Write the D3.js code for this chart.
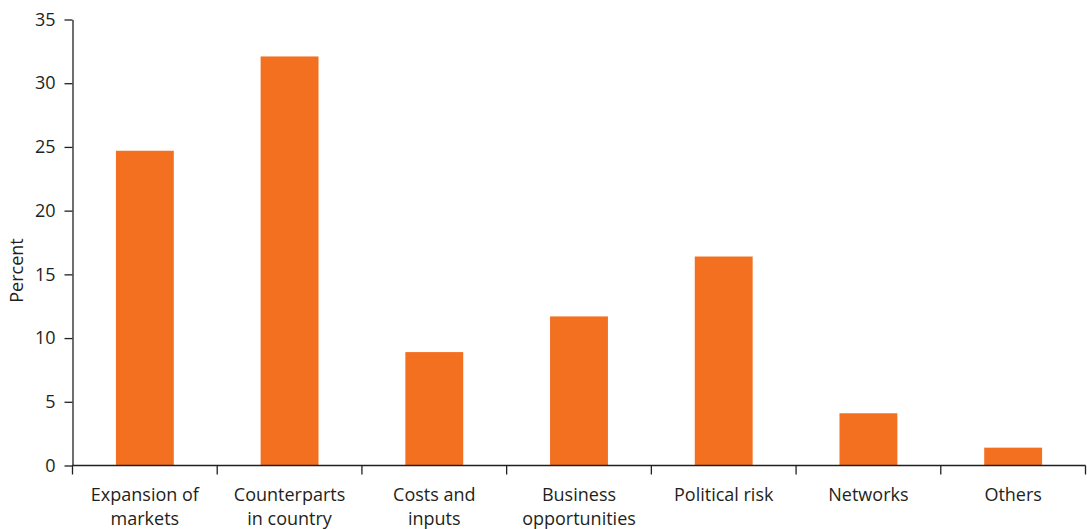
<!DOCTYPE html>
<html>
<head>
<meta charset="utf-8">
<script src="https://cdn.jsdelivr.net/npm/d3@7"></script>
<style>
  html, body { margin: 0; padding: 0; background: #fff; }
  svg text { font-family: "Open Sans", "Noto Sans", sans-serif; fill: #231f20; }
</style>
</head>
<body>
<svg id="chart" width="1087" height="529"></svg>
<script>
// Reasons for investing, share of respondents (percent)
const categories = [
  ["Expansion of", "markets"],
  ["Counterparts", "in country"],
  ["Costs and", "inputs"],
  ["Business", "opportunities"],
  ["Political risk"],
  ["Networks"],
  ["Others"]
];
const values = [24.7, 32.1, 8.9, 11.7, 16.4, 4.1, 1.4];
const yTicks = [0, 5, 10, 15, 20, 25, 30, 35];

const svg = d3.select("#chart");
const margin = { left: 72.5, right: 1.5, top: 19.5, bottom: 63.5 };
const W = 1087, H = 529;
const ink = "#231f20";

const x = d3.scaleBand()
  .domain(d3.range(categories.length))
  .range([margin.left, W - margin.right])
  .paddingInner(0.6)
  .paddingOuter(0.3);

const y = d3.scaleLinear()
  .domain([0, 35])
  .range([H - margin.bottom, margin.top]);

// bars
svg.append("g")
  .selectAll("rect")
  .data(values)
  .join("rect")
  .attr("x", (d, i) => x(i))
  .attr("width", x.bandwidth())
  .attr("y", d => y(d))
  .attr("height", d => y(0) - y(d))
  .attr("fill", "#f37021");

// y axis
const yAxis = svg.append("g")
  .attr("transform", `translate(${margin.left},0)`)
  .call(d3.axisLeft(y).tickValues(yTicks).tickSize(8).tickPadding(9).tickSizeOuter(0));
yAxis.select(".domain").attr("stroke", ink).attr("stroke-width", 1.3);
yAxis.selectAll(".tick line").attr("stroke", ink).attr("stroke-width", 1.3);
yAxis.selectAll(".tick text").attr("font-size", 18).style("fill", ink)
  .attr("font-family", "'Open Sans', sans-serif");

// x axis: ticks on band boundaries
const bounds = d3.range(categories.length + 1).map(i =>
  i < categories.length ? x(i) - x.step() * x.paddingInner() / 2 : W - margin.right);
const xg = svg.append("g");
xg.append("line")
  .attr("x1", margin.left).attr("x2", W - margin.right)
  .attr("y1", y(0)).attr("y2", y(0))
  .attr("stroke", ink).attr("stroke-width", 1.3);
xg.selectAll("line.tick")
  .data(bounds)
  .join("line")
  .attr("class", "tick")
  .attr("x1", d => d).attr("x2", d => d)
  .attr("y1", y(0)).attr("y2", y(0) + 9)
  .attr("stroke", ink).attr("stroke-width", 1.3);

// category labels
const lab = svg.append("g")
  .selectAll("text")
  .data(categories)
  .join("text")
  .attr("text-anchor", "middle")
  .attr("font-size", 18)
  .attr("x", (d, i) => x(i) + x.bandwidth() / 2)
  .attr("y", y(0) + 35);
lab.selectAll("tspan")
  .data(d => d)
  .join("tspan")
  .attr("x", function () { return d3.select(this.parentNode).attr("x"); })
  .attr("dy", (d, i) => i === 0 ? 0 : 24)
  .text(d => d);

// y axis title
svg.append("text")
  .attr("transform", `translate(23,${(y(0) + y(35)) / 2 + 28}) rotate(-90)`)
  .attr("text-anchor", "middle")
  .attr("font-size", 18)
  .text("Percent");
</script>
</body>
</html>
